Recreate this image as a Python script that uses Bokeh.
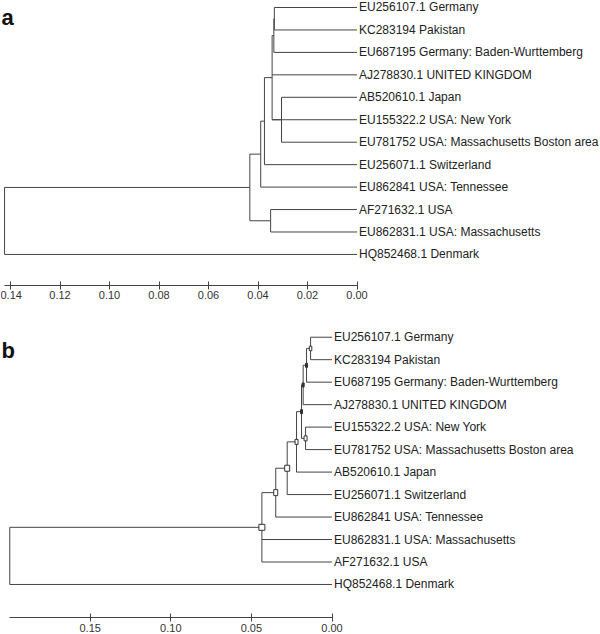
from bokeh.plotting import figure
from bokeh.models import (Range1d, LinearAxis, FixedTicker, NumeralTickFormatter,
                          Label, ColumnDataSource)
from bokeh.core.properties import value
from bokeh.embed import file_html
from bokeh.resources import INLINE

# ---------------- data: panel a (dendrogram) ----------------
A_LEAVES = ["EU256107.1 Germany", "KC283194 Pakistan", "EU687195 Germany: Baden-Wurttemberg",
            "AJ278830.1 UNITED KINGDOM", "AB520610.1 Japan", "EU155322.2 USA: New York",
            "EU781752 USA: Massachusetts Boston area", "EU256071.1 Switzerland",
            "EU862841 USA: Tennessee", "AF271632.1 USA", "EU862831.1 USA: Massachusetts",
            "HQ852468.1 Denmark"]
A_NODE_IDS = ["a1", "a2", "a3", "a4", "a5", "a6", "a7", "a8", "a9"]
A_NODE_CHILDREN = [[0, 1], ["a1", 2], [4, 6], ["a2", 3, 5, "a3"], ["a4", 7], ["a5", 8],
                   [9, 10], ["a6", "a7"], ["a8", 11]]
A_NODE_HEIGHTS = [0.0334, 0.0336, 0.0305, 0.0343, 0.0374, 0.0389, 0.0349, 0.0433, 0.1424]
A_TICKS = [0.0, 0.02, 0.04, 0.06, 0.08, 0.10, 0.12, 0.14]

# ---------------- data: panel b (tree with node boxes) ----------------
B_LEAVES = ["EU256107.1 Germany", "KC283194 Pakistan", "EU687195 Germany: Baden-Wurttemberg",
            "AJ278830.1 UNITED KINGDOM", "EU155322.2 USA: New York",
            "EU781752 USA: Massachusetts Boston area", "AB520610.1 Japan",
            "EU256071.1 Switzerland", "EU862841 USA: Tennessee",
            "EU862831.1 USA: Massachusetts", "AF271632.1 USA", "HQ852468.1 Denmark"]
B_NODE_IDS = ["b1", "b2", "b3", "b4", "b5", "b6", "b7", "b8", "b9", "b10"]
B_NODE_CHILDREN = [[0, 1], ["b1", 2], ["b2", 3], [4, 5], ["b3", "b4"], ["b5", 6],
                   ["b6", 7], ["b7", 8], ["b8", 9, 10], ["b9", 11]]
B_NODE_HEIGHTS = [0.0133, 0.0158, 0.0179, 0.0164, 0.0189, 0.0220, 0.0278, 0.0349, 0.0435, 0.1999]
B_TICKS = [0.0, 0.05, 0.10, 0.15]

# marker styling for the nodes of panel b (screen px), keyed by node id
B_BOX_STYLE = {"b1": (2.5, 4.5, "white"), "b2": (2, 4, "#333333"), "b3": (2, 4, "#333333"),
               "b4": (3, 5, "white"), "b5": (2, 4, "#333333"), "b6": (3, 5, "white"),
               "b7": (5, 6, "white"), "b8": (4, 6, "white"), "b9": (6, 6, "white")}

LINE = "#444444"
TEXT = "#222222"


def layout_tree(leaves, ids, children, heights):
    pos = {i: (0.0, float(i)) for i in range(len(leaves))}
    h = dict(x0=[], x1=[], y=[])
    v = dict(x=[], y0=[], y1=[])
    for nid, ch, ht in zip(ids, children, heights):
        ys = [pos[c][1] for c in ch]
        for c in ch:
            ch_h, ch_y = pos[c]
            h["x0"].append(ht); h["x1"].append(ch_h); h["y"].append(ch_y)
        v["x"].append(ht); v["y0"].append(min(ys)); v["y1"].append(max(ys))
        pos[nid] = (ht, (ys[0] + ys[-1]) / 2.0)
    return pos, h, v


W, H = 600, 634
p = figure(width=W, height=H, x_range=Range1d(0.14404, -0.09838),
           y_range=Range1d(27.929, -0.3118), x_axis_location=None, y_axis_location=None,
           toolbar_location=None, output_backend="svg", min_border=0,
           outline_line_color=None, background_fill_color="white", border_fill_color="white")
p.grid.visible = False
p.extra_x_ranges = {"xb": Range1d(0.20565, -0.16656)}
p.extra_y_ranges = {"yb": Range1d(13.225, -14.978)}

label_font = value("Liberation Sans")
tick_font = "Liberation Sans Narrow, Liberation Sans"

# ----- panel a -----
pos_a, ha, va = layout_tree(A_LEAVES, A_NODE_IDS, A_NODE_CHILDREN, A_NODE_HEIGHTS)
p.segment(x0="x0", y0="y", x1="x1", y1="y", source=ColumnDataSource(ha),
          line_color=LINE, line_width=1)
p.segment(x0="x", y0="y0", x1="x", y1="y1", source=ColumnDataSource(va),
          line_color=LINE, line_width=1)
p.text(x=[0.0] * len(A_LEAVES), y=list(range(len(A_LEAVES))), text=A_LEAVES,
       x_offset=2, text_align="left", text_baseline="middle",
       text_font=label_font, text_font_size="12px", text_color=TEXT)

ax_a = LinearAxis(fixed_location=12.383, ticker=FixedTicker(ticks=A_TICKS),
                  formatter=NumeralTickFormatter(format="0.00"),
                  bounds=(0.0, A_NODE_HEIGHTS[-1]))
# ----- panel b -----
pos_b, hb, vb = layout_tree(B_LEAVES, B_NODE_IDS, B_NODE_CHILDREN, B_NODE_HEIGHTS)
p.segment(x0="x0", y0="y", x1="x1", y1="y", source=ColumnDataSource(hb),
          line_color=LINE, line_width=1, x_range_name="xb", y_range_name="yb")
p.segment(x0="x", y0="y0", x1="x", y1="y1", source=ColumnDataSource(vb),
          line_color=LINE, line_width=1, x_range_name="xb", y_range_name="yb")
box_ids = [k for k in B_NODE_IDS if k in B_BOX_STYLE]
boxes = ColumnDataSource(dict(
    x=[pos_b[k][0] for k in box_ids], y=[pos_b[k][1] for k in box_ids],
    w=[B_BOX_STYLE[k][0] for k in box_ids], h=[B_BOX_STYLE[k][1] for k in box_ids],
    f=[B_BOX_STYLE[k][2] for k in box_ids]))
p.rect(x="x", y="y", width="w", height="h", width_units="screen", height_units="screen",
       fill_color="f", line_color="#333333", line_width=1, source=boxes,
       x_range_name="xb", y_range_name="yb")
p.text(x=[0.0] * len(B_LEAVES), y=list(range(len(B_LEAVES))), text=B_LEAVES,
       x_offset=2, text_align="left", text_baseline="middle",
       text_font=label_font, text_font_size="12px", text_color=TEXT,
       x_range_name="xb", y_range_name="yb")

ax_b = LinearAxis(fixed_location=12.469, ticker=FixedTicker(ticks=B_TICKS),
                  formatter=NumeralTickFormatter(format="0.00"),
                  bounds=(0.0, B_NODE_HEIGHTS[-1]), x_range_name="xb", y_range_name="yb")

for ax in (ax_a, ax_b):
    ax.axis_line_color = LINE
    ax.major_tick_line_color = LINE
    ax.minor_tick_line_color = None
    ax.major_tick_in = 4
    ax.major_tick_out = 4
    ax.major_label_standoff = 2
    ax.major_label_text_font = tick_font
    ax.major_label_text_font_size = "11px"
    ax.major_label_text_color = "#333333"
    p.add_layout(ax, "below")

p.add_layout(Label(x=1, y=H - 17, x_units="screen", y_units="screen", text="a",
                   text_font="Liberation Sans", text_font_style="bold",
                   text_font_size="22px", text_baseline="alphabetic", text_color="#111111"))
p.add_layout(Label(x=1, y=H - 350, x_units="screen", y_units="screen", text="b",
                   text_font="Liberation Sans", text_font_style="bold",
                   text_font_size="22px", text_baseline="alphabetic", text_color="#111111"))

open("out.html", "w").write(file_html(p, INLINE))
